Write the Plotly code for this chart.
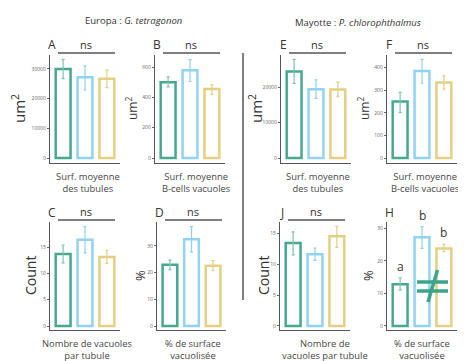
import plotly.graph_objects as go

# Bar data: mean, upper and lower error bound, three groups per panel
colors = ['#45a98f', '#92d2f2', '#e4cf82']
err_colors = ['#7cc4b0', '#8fd0f0', '#e2cf86']

A_mean = [30000, 27200, 26700]; A_hi = [33200, 31000, 29700]; A_lo = [26700, 22900, 23700]
B_mean = [500, 580, 455];       B_hi = [535, 650, 485];       B_lo = [470, 505, 420]
C_mean = [13.7, 16.4, 13.1];    C_hi = [15.4, 18.9, 14.4];    C_lo = [12.0, 13.9, 11.9]
D_mean = [22.9, 32.5, 22.6];    D_hi = [24.7, 37.2, 24.5];    D_lo = [21.0, 27.7, 20.7]
E_mean = [24400, 19400, 19300]; E_hi = [27800, 22000, 21400]; E_lo = [21000, 16800, 17300]
F_mean = [250, 385, 334];       F_hi = [291, 437, 365];       F_lo = [201, 331, 305]
J_mean = [13.4, 11.6, 14.5];    J_hi = [15.2, 12.6, 16.1];    J_lo = [11.5, 10.6, 12.7]
H_mean = [12.8, 27.2, 23.8];    H_hi = [14.8, 30.5, 25.1];    H_lo = [11.0, 23.8, 22.8]

A_ticks = [0, 10000, 20000, 30000]
B_ticks = [0, 200, 400, 600]
C_ticks = [0, 5, 10, 15]
D_ticks = [0, 10, 20, 30]
E_ticks = [0, 10000, 20000]
F_ticks = [0, 100, 200, 300, 400]
J_ticks = [0, 5, 10, 15]
H_ticks = [0, 10, 20, 30]
H_letters = ['a', 'b', 'b']

# page body has an 8px margin, so the figure is shrunk and positions shifted by it
OFF = 8
W, Hh = 466 - OFF, 361 - OFF
def px(x): return (x - OFF) / W
def py(y): return 1 - (y - OFF) / Hh

FONT = 'Open Sans'
TXT = '#474747'

# panel: letter, data, ticks, y range, pixel box (x0, x1, ytop, ybottom),
#        y title, title size, title x, x label, label centre, significance
panels = [
    ('A', A_mean, A_hi, A_lo, A_ticks, [-1684, 34680], (50, 120, 55, 163), 'um<sup>2</sup>', 15, 18, 'Surf. moyenne<br>des tubules', 88, 'ns'),
    ('B', B_mean, B_hi, B_lo, B_ticks, [-33, 680], (155, 225, 55, 163), 'um<sup>2</sup>', 12, 132, 'Surf. moyenne<br>B-cells vacuoles', 196, 'ns'),
    ('E', E_mean, E_hi, E_lo, E_ticks, [-1408, 29014], (281, 351, 55, 163), 'um<sup>2</sup>', 15, 255, 'Surf. moyenne<br>des tubules', 318, 'ns'),
    ('F', F_mean, F_hi, F_lo, F_ticks, [-22, 456], (387, 457, 55, 163), 'um<sup>2</sup>', 12, 364, 'Surf. moyenne<br>B-cells vacuoles', 425, 'ns'),
    ('C', C_mean, C_hi, C_lo, C_ticks, [-0.76, 19.77], (50, 120, 222, 330), 'Count', 14, 30, 'Nombre de vacuoles<br>par tubule', 87, 'ns'),
    ('D', D_mean, D_hi, D_lo, D_ticks, [-1.5, 38.95], (157, 226, 222, 330), '%', 13, 140, '% de surface<br>vacuolisée', 193, 'ns'),
    ('J', J_mean, J_hi, J_lo, J_ticks, [-0.65, 16.8], (280, 350, 222, 330), 'Count', 14, 263, 'Nombre de<br>vacuoles par tubule', 325, 'ns'),
    ('H', H_mean, H_hi, H_lo, H_ticks, [-1.23, 31.9], (387, 457, 222, 330), '%', 13, 368, '% de surface<br>vacuolisée', 422, None),
]

fig = go.Figure()
annotations = []
shapes = []

def note(x, y, text, size, **kw):
    d = dict(x=px(x), y=py(y), xref='paper', yref='paper', text=text, showarrow=False,
             xanchor='center', yanchor='middle',
             font=dict(size=size, color=kw.pop('color', '#333')))
    d.update(kw)
    annotations.append(d)

for k, (letter, mean, hi, lo, ticks, yr, box, ytitle, ysize, ytx, xlab, xlab_c, sig) in enumerate(panels):
    n = '' if k == 0 else str(k + 1)
    x0, x1, yt, yb = box
    for i in range(3):
        fig.add_trace(go.Bar(
            x=[i], y=[mean[i]], width=0.68,
            marker=dict(color='white', line=dict(color=colors[i], width=2.5)),
            error_y=dict(type='data', symmetric=False, array=[hi[i] - mean[i]], arrayminus=[mean[i] - lo[i]],
                         color=err_colors[i], thickness=1.2, width=1.5),
            xaxis='x' + n, yaxis='y' + n, showlegend=False, hoverinfo='skip'))
    fig.layout['xaxis' + n] = dict(domain=[px(x0), px(x1)], anchor='y' + n, range=[-0.6, 2.6],
                                   showticklabels=False, showgrid=False, zeroline=False,
                                   showline=True, linecolor='#555', linewidth=1.3)
    fig.layout['yaxis' + n] = dict(domain=[py(yb), py(yt)], anchor='x' + n, range=yr,
                                   tickvals=ticks, tickformat='d', ticks='outside', ticklen=2, tickwidth=0.8,
                                   tickcolor='#666', tickfont=dict(size=5, color='#666'), showgrid=False,
                                   zeroline=False, showline=True, linecolor='#555', linewidth=1.3)
    note(x0 + 2, yt - 10, letter, 12)
    note(ytx, (yt + yb) / 2, ytitle, ysize, textangle=-90)
    note(xlab_c, yb + 5, xlab, 9.4, yanchor='top', color=TXT)
    if sig:
        shapes.append(dict(type='line', xref='paper', yref='paper', x0=px(x0 + 8), x1=px(x0 + 65),
                           y0=py(yt - 2), y1=py(yt - 2), line=dict(color='#555', width=1.3)))
        note(x0 + 36, yt - 1, sig, 11, yanchor='bottom')

# compact letter display on panel H
for i in range(3):
    annotations.append(dict(x=i, y=H_hi[i], xref='x8', yref='y8', text=H_letters[i], showarrow=False,
                            xanchor='center', yanchor='bottom', yshift=1, font=dict(size=12, color='#333')))

# "not equal" sign drawn over panel H
neq = '#3aa58a'
shapes += [
    dict(type='line', xref='paper', yref='paper', x0=px(417), x1=px(448), y0=py(282), y1=py(282), line=dict(color=neq, width=3.5)),
    dict(type='line', xref='paper', yref='paper', x0=px(417), x1=px(448), y0=py(291), y1=py(291), line=dict(color=neq, width=3.5)),
    dict(type='line', xref='paper', yref='paper', x0=px(428), x1=px(437.5), y0=py(302), y1=py(270), line=dict(color=neq, width=3.5)),
]
# divider between the two species
shapes.append(dict(type='line', xref='paper', yref='paper', x0=px(243), x1=px(243), y0=py(53), y1=py(300),
                   line=dict(color='#555', width=1.5)))

note(133, 20, 'Europa : <i>G. tetragonon</i>', 9.5)
note(358, 22, 'Mayotte : <i>P. chlorophthalmus</i>', 9.5)

fig.update_layout(width=W, height=Hh, margin=dict(l=0, r=0, t=0, b=0), barmode='overlay',
                  paper_bgcolor='white', plot_bgcolor='white', font=dict(family=FONT),
                  annotations=annotations, shapes=shapes)
fig.write_html("out.html")
